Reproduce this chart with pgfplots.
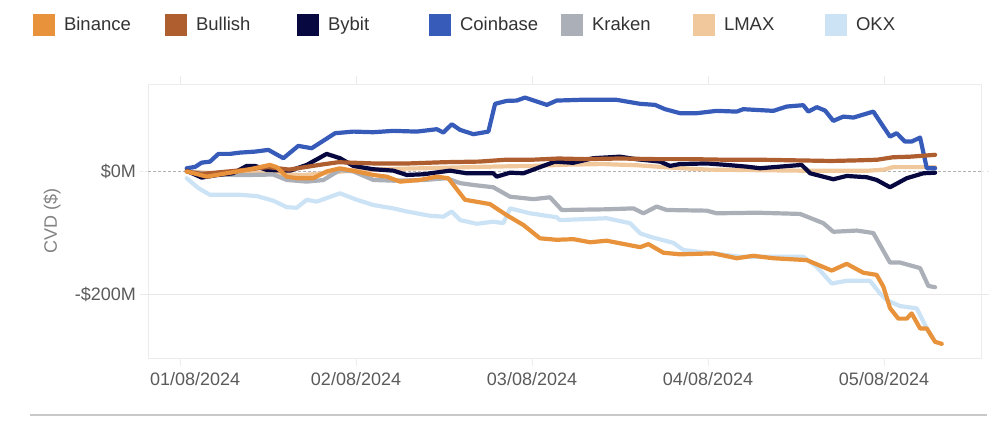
\documentclass[border=0pt]{standalone}
\usepackage{pgfplots}
\pgfplotsset{compat=1.18}
\usepackage{fontspec}
\setmainfont{Liberation Sans}
\definecolor{cBinance}{RGB}{232,147,60}
\definecolor{cBullish}{RGB}{175,94,48}
\definecolor{cBybit}{RGB}{8,8,64}
\definecolor{cCoinbase}{RGB}{54,91,185}
\definecolor{cKraken}{RGB}{170,175,184}
\definecolor{cLMAX}{RGB}{240,200,156}
\definecolor{cOKX}{RGB}{204,227,246}
\definecolor{tickgrey}{RGB}{90,90,90}
\definecolor{labgrey}{RGB}{130,130,130}
\definecolor{gridgrey}{RGB}{232,232,232}
\definecolor{framegrey}{RGB}{236,236,236}
\begin{document}
\begin{tikzpicture}
\useasboundingbox (0pt,0pt) rectangle (1006pt,-421pt);
\begin{axis}[
  at={(148pt,-358pt)}, anchor=south west,
  scale only axis, width=833pt, height=274pt,
  xmin=-0.182, xmax=4.551, ymin=-303, ymax=142,
  /pgf/number format/assume math mode=true,
  axis line style={framegrey, line width=1pt},
  xtick={0,1,2,3,4},
  xticklabels={\makebox[0pt][l]{\hspace*{-30pt}01/08/2024},02/08/2024,03/08/2024,04/08/2024,05/08/2024},
  ytick={-200},
  yticklabels={-\$200M},
  extra y ticks={0},
  extra y tick labels={\$0M},
  extra y tick style={grid style={dash pattern=on 2.5pt off 2.5pt, color=gray!60, line width=0.8pt}, major tick style={dash pattern=on 2.5pt off 2.5pt, color=gray!60}},
  ymajorgrids, grid style={gridgrey, line width=1pt},
  tick align=outside, major tick length=8pt,
  xtick style={framegrey, line width=1pt},
  ytick style={gridgrey, line width=1pt},
  x tick label style={font=\fontsize{18}{20}\selectfont, color=tickgrey, inner sep=0pt, yshift=-6pt},
  y tick label style={font=\fontsize{18}{20}\selectfont, color=tickgrey, inner sep=0pt, xshift=-4pt},
  ylabel={CVD (\$)},
  ylabel style={font=\fontsize{18}{20}\selectfont, color=labgrey, at={(axis description cs:-0.1152,0.5)}, anchor=center, inner sep=0pt},
  legend columns=7,
  reverse legend,
  legend image code/.code={\fill[#1, draw=none] (0pt,-11pt) rectangle (22pt,11pt);},
  legend style={at={(axis description cs:-0.138,1.2153)}, anchor=west, draw=none, fill=none,
    inner sep=0pt, outer sep=0pt, column sep=0pt,
    font=\fontsize{18.5}{20}\selectfont, text=black!80,
    nodes={inner sep=0pt},
    /tikz/every odd column/.append style={column sep=9pt}},
  every axis plot/.append style={line width=4.2pt, line join=round, line cap=round},
]
\addplot[color=cOKX] coordinates {(0.038,-11)(0.104,-27)(0.170,-38)(0.341,-38)(0.436,-40)(0.530,-47.5)(0.606,-58)(0.663,-59)(0.720,-46)(0.777,-49)(0.909,-35.5)(1.004,-46)(1.098,-54.5)(1.212,-60)(1.288,-65)(1.420,-72)(1.496,-73.5)(1.544,-65)(1.591,-79)(1.686,-85)(1.780,-81.6)(1.837,-84)(1.875,-60)(1.989,-68)(2.140,-74.5)(2.159,-79)(2.424,-76)(2.557,-84)(2.614,-100.5)(2.670,-106)(2.803,-116)(2.860,-127.6)(2.993,-132)(3.182,-138.5)(3.541,-138.5)(3.618,-155)(3.703,-182)(3.788,-177.6)(3.920,-177.6)(3.977,-198)(4.015,-209)(4.091,-218.7)(4.186,-222.4)(4.243,-255)(4.271,-268.6)};
\addlegendentry{\makebox[101pt][l]{OKX}}
\addplot[color=cLMAX] coordinates {(0.038,0)(0.2,-3)(0.5,-3)(0.7,-6)(0.85,-2)(1.0,2)(1.2,4)(1.5,6)(1.8,8)(2.0,9)(2.2,11)(2.4,12)(2.6,10)(2.8,6)(3.0,3)(3.3,2)(3.6,1)(3.9,1)(4.0,3)(4.05,7)(4.29,7)};
\addlegendentry{\makebox[101pt][l]{LMAX}}
\addplot[color=cKraken] coordinates {(0.038,0)(0.152,-4)(0.341,-6)(0.530,-5)(0.606,-13.8)(0.720,-16.5)(0.814,-14)(0.909,2.4)(0.985,0)(1.098,-13.8)(1.212,-15)(1.382,-14)(1.515,-11)(1.591,-19)(1.667,-22)(1.780,-25.7)(1.875,-41)(2.008,-45)(2.102,-42)(2.169,-62.6)(2.424,-61.5)(2.576,-60)(2.633,-68)(2.708,-57)(2.765,-62.6)(2.993,-63.7)(3.049,-68)(3.277,-67)(3.523,-69)(3.655,-84)(3.712,-98)(3.845,-96)(3.939,-100)(4.034,-148)(4.091,-148)(4.205,-157)(4.252,-186)(4.290,-188)};
\addlegendentry{\makebox[101pt][l]{Kraken}}
\addplot[color=cCoinbase] coordinates {(0.038,5.2)(0.085,7.3)(0.123,14.3)(0.170,15.9)(0.218,28.5)(0.284,28.5)(0.341,30.6)(0.426,32.2)(0.502,35.0)(0.587,21.5)(0.672,41.5)(0.748,37.7)(0.881,62.1)(0.985,64.7)(1.098,63.7)(1.212,65.9)(1.345,64.7)(1.459,68.6)(1.496,63.1)(1.544,76.7)(1.591,67.5)(1.667,60.5)(1.752,64.7)(1.790,109.8)(1.856,114.6)(1.913,115.1)(1.960,120.0)(2.045,111.9)(2.084,108.1)(2.140,115.1)(2.273,116.3)(2.481,116.3)(2.614,109.8)(2.699,108.1)(2.756,101.1)(2.841,94.6)(2.936,94.6)(3.049,98.4)(3.163,97.2)(3.200,101.1)(3.371,98.4)(3.447,105.4)(3.541,107.6)(3.570,97.2)(3.618,104.4)(3.665,98.9)(3.712,82.1)(3.769,89.1)(3.826,87.5)(3.939,97.2)(4.034,56.6)(4.072,62.1)(4.119,48.5)(4.157,48.5)(4.205,55.0)(4.243,5.2)(4.290,5.2)};
\addlegendentry{\makebox[101pt][l]{Coinbase}}
\addplot[color=cBybit] coordinates {(0.038,1)(0.123,-10)(0.209,-6)(0.301,-3)(0.379,9)(0.426,9)(0.493,2.4)(0.625,1.3)(0.720,10.6)(0.833,28.5)(0.909,21.5)(0.985,9)(1.098,3.6)(1.212,1.3)(1.288,-5.7)(1.382,-4.6)(1.534,1.3)(1.629,-3)(1.780,-3)(1.799,-8.5)(1.875,-2)(1.951,-3)(2.045,7)(2.131,16)(2.233,14)(2.348,21.5)(2.500,24)(2.595,19.8)(2.727,16)(2.784,9)(2.841,12)(2.993,13)(3.106,10.6)(3.220,7.8)(3.295,5.2)(3.409,7.8)(3.532,10.6)(3.580,-3)(3.712,-12.7)(3.788,-7.3)(3.902,-9.4)(3.958,-13.8)(4.034,-25.7)(4.129,-11)(4.223,-3)(4.290,-2)};
\addlegendentry{\makebox[101pt][l]{Bybit}}
\addplot[color=cBullish] coordinates {(0.038,0)(0.12,-4)(0.2,-2)(0.35,2)(0.5,7)(0.62,3)(0.8,11)(0.9,15)(1.0,14)(1.1,13)(1.3,13)(1.5,15)(1.7,16)(1.85,19)(2.0,19)(2.15,21)(2.3,20)(2.5,21)(2.7,20)(2.9,20)(3.1,19)(3.3,19)(3.5,18)(3.7,17)(3.85,18)(3.96,19)(4.05,23)(4.15,24)(4.29,27)};
\addlegendentry{\makebox[101pt][l]{Bullish}}
\addplot[color=cBinance] coordinates {(0.038,0)(0.152,-8.5)(0.265,-3)(0.379,2.4)(0.511,10.6)(0.549,7)(0.606,-8.5)(0.663,-11)(0.757,-11)(0.833,0)(0.909,5)(0.985,1)(1.098,-5.7)(1.174,-8.5)(1.250,-16.6)(1.364,-13.8)(1.459,-8.5)(1.524,-11)(1.619,-46)(1.761,-53)(1.856,-71)(1.951,-87)(2.045,-108.6)(2.140,-111)(2.235,-110)(2.330,-115)(2.424,-112.5)(2.614,-123)(2.661,-118)(2.746,-132)(2.841,-134.6)(3.030,-133)(3.163,-141)(3.257,-137)(3.371,-141)(3.561,-144)(3.703,-161)(3.788,-150)(3.882,-164.5)(3.958,-168)(3.996,-187)(4.034,-222)(4.081,-239)(4.129,-239)(4.157,-230.6)(4.205,-255)(4.243,-255)(4.290,-276.7)(4.328,-280)};
\addlegendentry{\makebox[101pt][l]{Binance}}
\end{axis}
\draw[line width=2pt, color={rgb,255:red,200;green,200;blue,200}] (30pt,-415pt) -- (987pt,-415pt);
\end{tikzpicture}
\end{document}
